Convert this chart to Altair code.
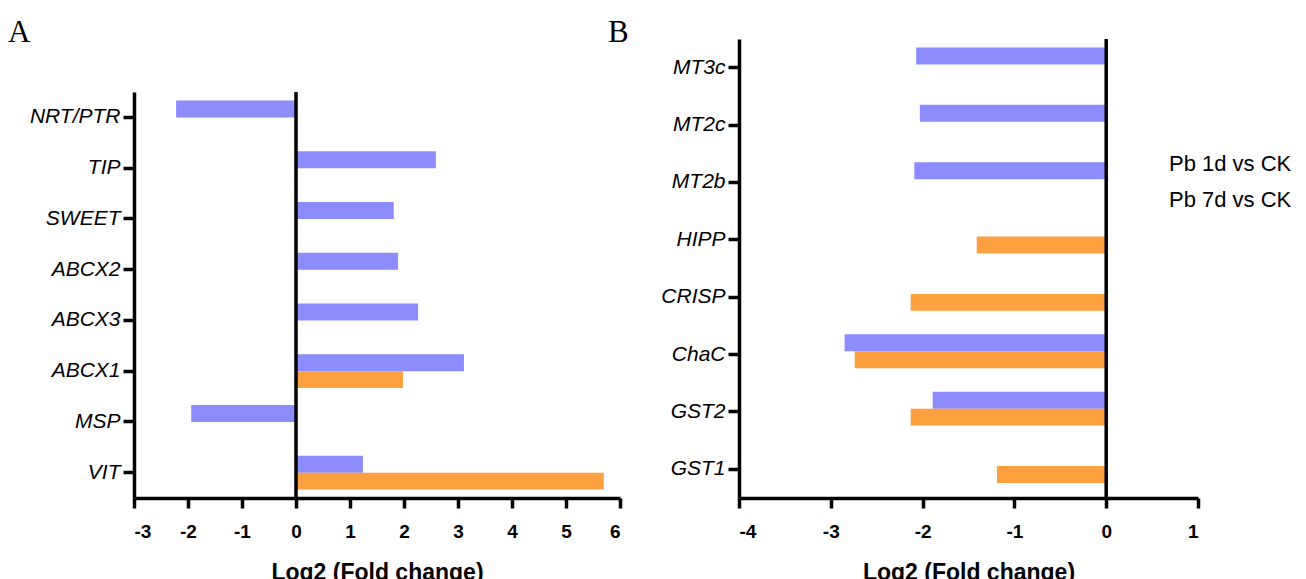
import altair as alt
import pandas as pd

SERIES = ["Pb 1d vs CK", "Pb 7d vs CK"]
COLORS = ["#8C8CFF", "#FFA040"]

A_genes = ["NRT/PTR", "TIP", "SWEET", "ABCX2", "ABCX3", "ABCX1", "MSP", "VIT"]
A_1d = [-2.22, 2.59, 1.81, 1.89, 2.26, 3.11, -1.94, 1.24]
A_7d = [None, None, None, None, None, 1.98, None, 5.70]

B_genes = ["MT3c", "MT2c", "MT2b", "HIPP", "CRISP", "ChaC", "GST2", "GST1"]
B_1d = [-2.07, -2.03, -2.09, None, None, -2.85, -1.89, None]
B_7d = [None, None, None, -1.41, -2.13, -2.74, -2.13, -1.19]


def make_df(genes, s1, s2):
    rows = []
    for g, a, b in zip(genes, s1, s2):
        if a is not None:
            rows.append({"gene": g, "series": SERIES[0], "value": a})
        if b is not None:
            rows.append({"gene": g, "series": SERIES[1], "value": b})
    return pd.DataFrame(rows)


dfA = make_df(A_genes, A_1d, A_7d)
dfB = make_df(B_genes, B_1d, B_7d)

FONT = "Liberation Sans"


def panel(df, genes, xdom, width, height, yrange, letter, letter_dx, show_legend):
    xaxis = alt.Axis(
        values=list(range(xdom[0], xdom[1] + 1)),
        labelExpr="'' + datum.value",
        title="Log2 (Fold change)",
        grid=False,
        labelFont=FONT, labelFontSize=19, labelFontWeight="bold", labelColor="black",
        labelPadding=14,
        titleFont=FONT, titleFontSize=23, titleFontWeight="bold", titleColor="black",
        titlePadding=20,
        domainColor="black", domainWidth=3.5, tickColor="black", tickWidth=3.5, tickSize=10,
    )
    yaxis = alt.Axis(
        title=None, grid=False,
        labelFont=FONT, labelFontSize=21, labelFontStyle="italic", labelColor="black",
        labelPadding=3,
        domainColor="black", domainWidth=3.5, tickColor="black", tickWidth=3.5, tickSize=11,
    )
    if yrange is not None:
        yscale = alt.Scale(domain=genes, paddingInner=0, paddingOuter=0, range=yrange)
    else:
        yscale = alt.Scale(domain=genes, paddingInner=0, paddingOuter=0)
    if show_legend:
        legend = alt.Legend(
            title=None, orient="none", legendX=408, legendY=114,
            symbolOpacity=0, symbolSize=0, symbolStrokeWidth=0, labelOffset=0,
            labelFont=FONT, labelFontSize=22, labelColor="black", rowPadding=14,
        )
    else:
        legend = None
    bars = alt.Chart(df).mark_bar().encode(
        x=alt.X("value:Q", scale=alt.Scale(domain=xdom, nice=False, zero=False), axis=xaxis),
        y=alt.Y("gene:N", scale=yscale, axis=yaxis, sort=genes),
        yOffset=alt.YOffset("series:N", scale=alt.Scale(domain=SERIES, paddingInner=0, paddingOuter=0.5)),
        color=alt.Color("series:N", scale=alt.Scale(domain=SERIES, range=COLORS), legend=legend),
    )
    ytop = yrange[0] if yrange is not None else 0
    ybot = yrange[1] if yrange is not None else height
    zero = alt.Chart(pd.DataFrame({"z": [0]})).mark_rule(color="black", strokeWidth=3.5).encode(
        x=alt.X("z:Q"), y=alt.value(ytop), y2=alt.value(ybot)
    )
    lab = alt.Chart(pd.DataFrame({"t": [letter]})).mark_text(
        font="Liberation Serif", fontSize=31, align="left", baseline="alphabetic", color="black"
    ).encode(text="t:N", x=alt.value(letter_dx), y=alt.value(3))
    return alt.layer(bars, zero, lab).properties(width=width, height=height)


pA = panel(dfA, A_genes, [-3, 6], 486, 459, [53, 459], "A", -126, False)
pB = panel(dfB, B_genes, [-4, 1], 459, 459, None, "B", -131, True)

chart = alt.hconcat(pA, pB, spacing=119, bounds="flush").resolve_legend(
    color="independent"
).configure_view(stroke=None).properties(
    padding={"left": 8, "top": 17, "right": 0, "bottom": 0}
)

chart.save("out.html", embed_options={"renderer": "svg", "actions": False})
